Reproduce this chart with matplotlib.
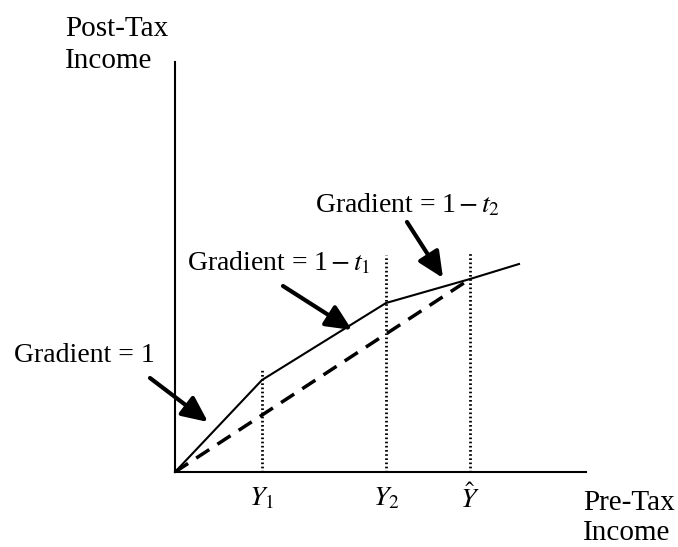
import matplotlib as mpl
mpl.use('Agg')
import matplotlib.pyplot as plt

plt.rcParams['font.family'] = ['Liberation Serif', 'DejaVu Serif']
plt.rcParams['mathtext.fontset'] = 'stix'

# incomes (pre-tax) at the kinks, and post-tax incomes there
pre_tax = [0.0, 0.87, 2.11, 2.95, 3.44]
post_tax = [0.0, 0.92, 1.69, 1.93, 2.08]
flat_pre = [0.0, 2.95]
flat_post = [0.0, 1.93]
thresholds = [0.87, 2.11, 2.95]
threshold_tops = [1.02, 2.17, 2.20]
threshold_labels = [r'$Y_{\mathrm{1}}$', r'$Y_{\mathrm{2}}$', r'$\hat{Y}$']

FS = 20

fig = plt.figure(figsize=(6.78, 5.47), dpi=100)
ax = fig.add_axes([175/678, 75/547, 411/678, 410/547])
ax.set_xlim(0, 4.11)
ax.set_ylim(0, 4.10)
for s in ['top', 'right']:
    ax.spines[s].set_visible(False)
for s in ['left', 'bottom']:
    ax.spines[s].set_linewidth(1.5)
ax.set_xticks([])
ax.set_yticks([])

ax.plot(pre_tax, post_tax, color='black', lw=1.5, clip_on=False)
ax.plot(flat_pre, flat_post, color='black', lw=2.5, ls=(0, (4.5, 2.8)))
for x, top, lab in zip(thresholds, threshold_tops, threshold_labels):
    ax.plot([x, x], [0, top], color='black', lw=2, ls=(0, (0.6, 0.9)))
    ax.text(x, -0.27, lab, ha='center', va='center', fontsize=FS)

ax.text(-1.10, 4.56, 'Post-Tax\nIncome', ha='left', va='top', fontsize=21,
        linespacing=1.32)
ax.text(4.08, -0.18, 'Pre-Tax\nIncome', ha='left', va='top', fontsize=21,
        linespacing=1.22)

arrow = dict(arrowstyle='-|>,head_length=0.65,head_width=0.3', lw=3,
             color='black', mutation_scale=24, shrinkA=0, shrinkB=0)
ax.text(-1.61, 1.16, 'Gradient = 1', ha='left', va='center', fontsize=FS)
ax.annotate('', xy=(0.33, 0.50), xytext=(-0.25, 0.94), arrowprops=arrow,
            annotation_clip=False)
ax.text(0.12, 2.09, r'Gradient = 1$\,$$-$$\,$$t_{\mathrm{1}}$', ha='left',
        va='center', fontsize=FS)
ax.annotate('', xy=(1.77, 1.42), xytext=(1.08, 1.86), arrowprops=arrow)
ax.text(1.40, 2.67, r'Gradient = 1$\,$$-$$\,$$t_{\mathrm{2}}$', ha='left',
        va='center', fontsize=FS)
ax.annotate('', xy=(2.68, 1.94), xytext=(2.32, 2.50), arrowprops=arrow)

fig.savefig('out.png')
